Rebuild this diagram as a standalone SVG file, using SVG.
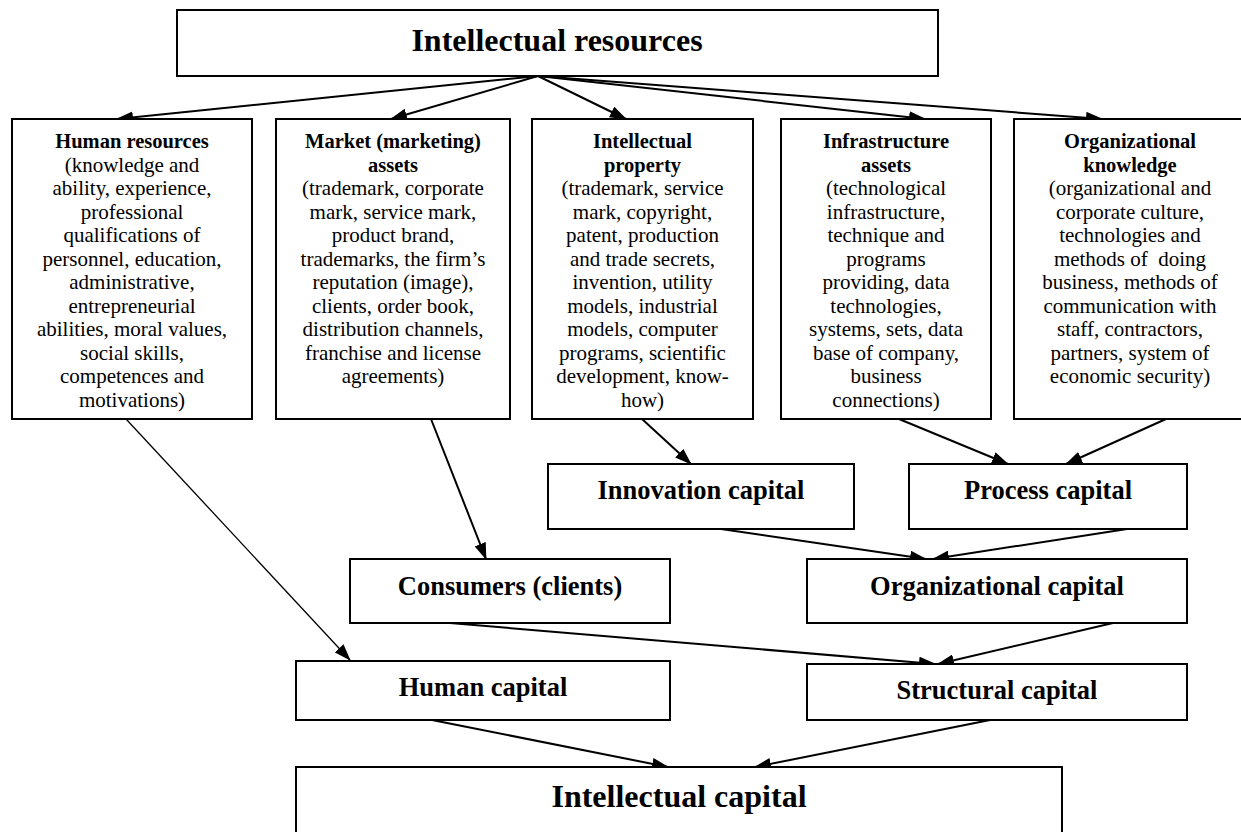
<svg xmlns="http://www.w3.org/2000/svg" width="1241" height="832" viewBox="0 0 1241 832">
<defs>
<marker id="ah" markerUnits="userSpaceOnUse" markerWidth="17" markerHeight="12" refX="16" refY="6" orient="auto">
<path d="M0,0 L17,6 L0,12 Z" fill="#000"/>
</marker>
<style>
.box{fill:#fff;stroke:#000;stroke-width:2}
.hd{font-family:"Liberation Serif","Times New Roman",serif;font-weight:bold;font-size:20.5px;text-anchor:middle}
.bd{font-family:"Liberation Serif","Times New Roman",serif;font-size:21px;text-anchor:middle}
.mid{font-family:"Liberation Serif","Times New Roman",serif;font-weight:bold;font-size:26.5px;text-anchor:middle}
.big{font-family:"Liberation Serif","Times New Roman",serif;font-weight:bold;font-size:32px;text-anchor:middle}
.ln{stroke:#000;stroke-width:2;fill:none;marker-end:url(#ah)}
.thin{stroke:#000;stroke-width:1.3;fill:none;marker-end:url(#ah)}
</style>
</defs>
<rect width="1241" height="832" fill="#fff"/>
<g id="connectors">
<line class="ln" x1="538" y1="76" x2="117" y2="119"/>
<line class="ln" x1="538" y1="76" x2="391" y2="119"/>
<line class="ln" x1="538" y1="76" x2="626" y2="119"/>
<line class="ln" x1="538" y1="76" x2="925" y2="119"/>
<line class="ln" x1="538" y1="76" x2="1102" y2="119"/>
<line class="thin" x1="126" y1="419" x2="350" y2="660"/>
<line class="ln" x1="431" y1="419" x2="486" y2="559"/>
<line class="ln" x1="642" y1="419" x2="691" y2="464"/>
<line class="ln" x1="899" y1="419" x2="1008" y2="464"/>
<line class="ln" x1="1166" y1="419" x2="1066" y2="464"/>
<line class="ln" x1="721" y1="529" x2="926" y2="559"/>
<line class="ln" x1="1127" y1="529" x2="933" y2="559"/>
<line class="ln" x1="450" y1="623" x2="935" y2="664"/>
<line class="ln" x1="1113" y1="623" x2="938" y2="664"/>
<line class="ln" x1="432" y1="720" x2="668" y2="767"/>
<line class="ln" x1="990" y1="720" x2="755" y2="767"/>
</g>
<g id="intellectual-resources">
<rect class="box" x="177" y="10" width="761" height="66"/>
<text class="big" x="557" y="51">Intellectual resources</text>
</g>
<g id="human-resources">
<rect class="box" x="12" y="119" width="240" height="300"/>
<text class="hd" x="132" y="148">Human resources</text>
<text class="bd" x="132" y="171.5">(knowledge and</text>
<text class="bd" x="132" y="195">ability, experience,</text>
<text class="bd" x="132" y="218.5">professional</text>
<text class="bd" x="132" y="242">qualifications of</text>
<text class="bd" x="132" y="265.5">personnel, education,</text>
<text class="bd" x="132" y="289">administrative,</text>
<text class="bd" x="132" y="312.5">entrepreneurial</text>
<text class="bd" x="132" y="336">abilities, moral values,</text>
<text class="bd" x="132" y="359.5">social skills,</text>
<text class="bd" x="132" y="383">competences and</text>
<text class="bd" x="132" y="406.5">motivations)</text>
</g>
<g id="market-assets">
<rect class="box" x="276" y="119" width="234" height="300"/>
<text class="hd" x="393" y="148">Market (marketing)</text>
<text class="hd" x="393" y="171.5">assets</text>
<text class="bd" x="393" y="195">(trademark, corporate</text>
<text class="bd" x="393" y="218.5">mark, service mark,</text>
<text class="bd" x="393" y="242">product brand,</text>
<text class="bd" x="393" y="265.5">trademarks, the firm’s</text>
<text class="bd" x="393" y="289">reputation (image),</text>
<text class="bd" x="393" y="312.5">clients, order book,</text>
<text class="bd" x="393" y="336">distribution channels,</text>
<text class="bd" x="393" y="359.5">franchise and license</text>
<text class="bd" x="393" y="383">agreements)</text>
</g>
<g id="intellectual-property">
<rect class="box" x="532" y="119" width="221" height="300"/>
<text class="hd" x="642.5" y="148">Intellectual</text>
<text class="hd" x="642.5" y="171.5">property</text>
<text class="bd" x="642.5" y="195">(trademark, service</text>
<text class="bd" x="642.5" y="218.5">mark, copyright,</text>
<text class="bd" x="642.5" y="242">patent, production</text>
<text class="bd" x="642.5" y="265.5">and trade secrets,</text>
<text class="bd" x="642.5" y="289">invention, utility</text>
<text class="bd" x="642.5" y="312.5">models, industrial</text>
<text class="bd" x="642.5" y="336">models, computer</text>
<text class="bd" x="642.5" y="359.5">programs, scientific</text>
<text class="bd" x="642.5" y="383">development, know-</text>
<text class="bd" x="642.5" y="406.5">how)</text>
</g>
<g id="infrastructure-assets">
<rect class="box" x="781" y="119" width="210" height="300"/>
<text class="hd" x="886" y="148">Infrastructure</text>
<text class="hd" x="886" y="171.5">assets</text>
<text class="bd" x="886" y="195">(technological</text>
<text class="bd" x="886" y="218.5">infrastructure,</text>
<text class="bd" x="886" y="242">technique and</text>
<text class="bd" x="886" y="265.5">programs</text>
<text class="bd" x="886" y="289">providing, data</text>
<text class="bd" x="886" y="312.5">technologies,</text>
<text class="bd" x="886" y="336">systems, sets, data</text>
<text class="bd" x="886" y="359.5">base of company,</text>
<text class="bd" x="886" y="383">business</text>
<text class="bd" x="886" y="406.5">connections)</text>
</g>
<g id="organizational-knowledge">
<rect class="box" x="1014" y="119" width="232" height="300"/>
<text class="hd" x="1130" y="148">Organizational</text>
<text class="hd" x="1130" y="171.5">knowledge</text>
<text class="bd" x="1130" y="195">(organizational and</text>
<text class="bd" x="1130" y="218.5">corporate culture,</text>
<text class="bd" x="1130" y="242">technologies and</text>
<text class="bd" x="1130" y="265.5" xml:space="preserve">methods of  doing</text>
<text class="bd" x="1130" y="289">business, methods of</text>
<text class="bd" x="1130" y="312.5">communication with</text>
<text class="bd" x="1130" y="336">staff, contractors,</text>
<text class="bd" x="1130" y="359.5">partners, system of</text>
<text class="bd" x="1130" y="383">economic security)</text>
</g>
<g id="innovation-capital">
<rect class="box" x="548" y="464" width="306" height="65"/>
<text class="mid" x="701" y="499">Innovation capital</text>
</g>
<g id="process-capital">
<rect class="box" x="909" y="464" width="278" height="65"/>
<text class="mid" x="1048" y="499">Process capital</text>
</g>
<g id="consumers-capital">
<rect class="box" x="350" y="559" width="320" height="64"/>
<text class="mid" x="510" y="595">Consumers (clients)</text>
</g>
<g id="organizational-capital">
<rect class="box" x="807" y="559" width="380" height="64"/>
<text class="mid" x="997" y="595">Organizational capital</text>
</g>
<g id="human-capital">
<rect class="box" x="296" y="661" width="374" height="59"/>
<text class="mid" x="483" y="696">Human capital</text>
</g>
<g id="structural-capital">
<rect class="box" x="807" y="664" width="380" height="56"/>
<text class="mid" x="997" y="699">Structural capital</text>
</g>
<g id="intellectual-capital">
<rect class="box" x="296" y="767" width="766" height="80"/>
<text class="big" x="679" y="807">Intellectual capital</text>
</g>
</svg>
